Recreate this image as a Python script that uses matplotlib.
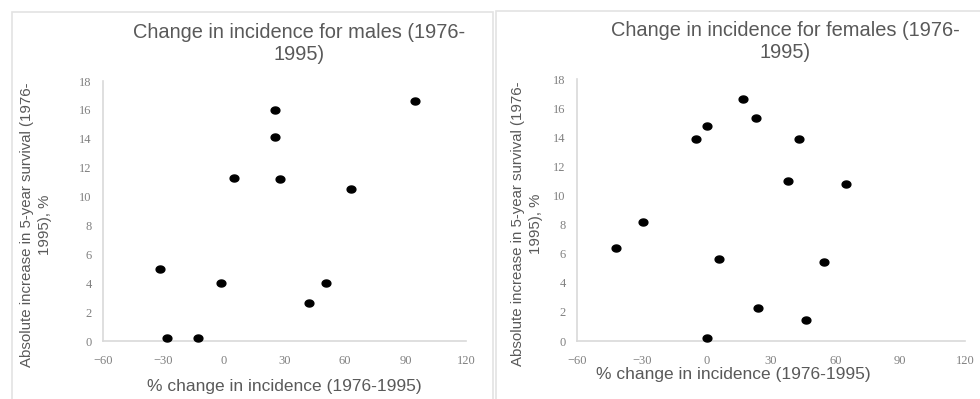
import numpy as np
import matplotlib.pyplot as plt
from matplotlib.path import Path
from matplotlib.patches import Rectangle

# males: % change in incidence vs absolute increase in 5-year survival
male_x = [94.5, 25.2, 25.2, 4.8, 27.7, 63.0, -31.5, -1.3, 50.8, 42.3, -28.3, -13.0]
male_y = [16.6, 16.0, 14.1, 11.3, 11.2, 10.5, 5.0, 4.0, 4.0, 2.6, 0.2, 0.2]

# females
female_x = [17.0, 23.1, 0.3, -4.9, 42.9, 37.9, 64.7, -29.5, -41.7, 6.1, 54.8, 24.0, 46.4, 0.3]
female_y = [16.6, 15.3, 14.8, 13.85, 13.85, 11.0, 10.8, 8.2, 6.4, 5.6, 5.4, 2.3, 1.45, 0.2]

x_ticks = [-60, -30, 0, 30, 60, 90, 120]
y_ticks = [0, 2, 4, 6, 8, 10, 12, 14, 16, 18]

TITLE_C = '#595959'
TICK_C = '#808080'
AXIS_C = '#d9d9d9'

W, H = 980, 399
fig = plt.figure(figsize=(W / 100, H / 100), dpi=100)
fig.patch.set_facecolor('white')

# slightly flattened dot, like the excel markers
t = np.linspace(0, 2 * np.pi, 40)
dot = Path(np.column_stack([1.25 * np.cos(t), np.sin(t)]), closed=True)


def px_axes(x0, y0, x1, y1):
    # pixel box (top-left origin) -> figure axes
    return fig.add_axes([x0 / W, (H - y1) / H, (x1 - x0) / W, (y1 - y0) / H])


def style(ax):
    ax.set_xlim(-60, 120)
    ax.set_ylim(0, 18)
    ax.set_xticks(x_ticks)
    ax.set_yticks(y_ticks)
    for s in ['top', 'right']:
        ax.spines[s].set_visible(False)
    for s in ['left', 'bottom']:
        ax.spines[s].set_color(AXIS_C)
        ax.spines[s].set_linewidth(1.2)
    ax.tick_params(length=0, labelsize=9, labelcolor=TICK_C)
    ax.tick_params(axis='y', pad=8)
    ax.tick_params(axis='x', pad=10)
    for lab in ax.get_xticklabels() + ax.get_yticklabels():
        lab.set_family('Liberation Serif')
    ax.set_facecolor('none')


# panel borders
fig.patches.append(Rectangle((12 / W, -0.05), (493 - 12) / W, (H - 12) / H + 0.05,
                             transform=fig.transFigure, fill=False, ec='#e3e3e3', lw=1.2))
fig.patches.append(Rectangle((496 / W, -0.05), (W + 5 - 496) / W, (H - 11) / H + 0.05,
                             transform=fig.transFigure, fill=False, ec='#e3e3e3', lw=1.2))

ax1 = px_axes(103, 81, 466, 341)
ax1.scatter(male_x, male_y, marker=dot, s=40, c='black', clip_on=False, zorder=3)
style(ax1)

ax2 = px_axes(577, 79, 965, 341)
ax2.scatter(female_x, female_y, marker=dot, s=40, c='black', clip_on=False, zorder=3)
style(ax2)

tfont = dict(family='Liberation Sans', color=TITLE_C)
fig.text(299 / W, 1 - 43 / H, 'Change in incidence for males (1976-\n1995)', ha='center',
         va='center', fontsize=14.4, linespacing=1.2, **tfont)
fig.text(785 / W, 1 - 41 / H, 'Change in incidence for females (1976-\n1995)', ha='center',
         va='center', fontsize=14.4, linespacing=1.2, **tfont)

ylab = 'Absolute increase in 5-year survival (1976-\n1995), %'
fig.text(36 / W, 1 - 225 / H, ylab, rotation=90, ha='center', va='center',
         fontsize=10.8, linespacing=1.4, **tfont)
fig.text(527 / W, 1 - 224 / H, ylab, rotation=90, ha='center', va='center',
         fontsize=10.8, linespacing=1.4, **tfont)

fig.text(284 / W, 1 - 386 / H, '% change in incidence (1976-1995)', ha='center', va='center',
         fontsize=12.5, **tfont)
fig.text(733 / W, 1 - 375 / H, '% change in incidence (1976-1995)', ha='center', va='center',
         fontsize=12.5, **tfont)

fig.savefig('out.png', dpi=100, facecolor='white')
